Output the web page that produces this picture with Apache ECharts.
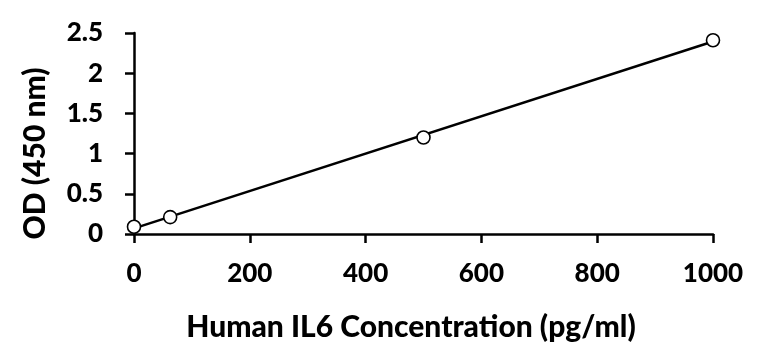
<!DOCTYPE html>
<html>
<head>
<meta charset="utf-8">
<script src="https://cdn.jsdelivr.net/npm/echarts@6/dist/echarts.min.js"></script>
<style>
  html, body { margin: 0; padding: 0; background: #fff; }
  #chart { width: 772px; height: 351px; }
</style>
</head>
<body>
<div id="chart"></div>
<script>
// Data
const concentrations = [0, 62.5, 500, 1000];
const odValues = [0.09, 0.21, 1.2, 2.41];
// Linear trendline end points
const trendX = [0, 1000];
const trendY = [0.07, 2.394];
const xTitle = 'Human IL6 Concentration (pg/ml)';
const yTitle = 'OD (450 nm)';

const FONT = 'Lato';
const WEIGHT = 900;
const chart = echarts.init(document.getElementById('chart'), null, { renderer: 'canvas' });

const axisCommon = {
  axisLine: { show: true, lineStyle: { color: '#000', width: 2.5 } },
  axisTick: { show: true, inside: false, length: 9, lineStyle: { color: '#000', width: 2.5 } },
  splitLine: { show: false },
  axisLabel: { color: '#000', fontFamily: FONT, fontWeight: WEIGHT, fontSize: 26, formatter: v => String(v) }
};

chart.setOption({
  animation: false,
  backgroundColor: '#fff',
  grid: { left: 134, right: 59, top: 33, bottom: 117, containLabel: false },
  xAxis: Object.assign({}, axisCommon, {
    type: 'value', min: 0, max: 1000, interval: 200,
    axisLabel: Object.assign({}, axisCommon.axisLabel, { margin: 27 })
  }),
  yAxis: Object.assign({}, axisCommon, {
    type: 'value', min: 0, max: 2.5, interval: 0.5,
    axisLabel: Object.assign({}, axisCommon.axisLabel, { margin: 31 })
  }),
  graphic: [
    {
      type: 'text', x: 411, y: 327,
      style: { text: xTitle, fill: '#000', font: WEIGHT + ' 30px ' + FONT, textAlign: 'center', textVerticalAlign: 'middle' }
    },
    {
      type: 'text', x: 35, y: 153.5, rotation: Math.PI / 2,
      style: { text: yTitle, fill: '#000', font: WEIGHT + ' 30px ' + FONT, textAlign: 'center', textVerticalAlign: 'middle' }
    }
  ],
  series: [
    {
      type: 'line',
      data: trendX.map((x, i) => [x, trendY[i]]),
      symbol: 'none',
      lineStyle: { color: '#000', width: 2.5 },
      z: 2
    },
    {
      type: 'scatter',
      data: concentrations.map((x, i) => [x, odValues[i]]),
      symbol: 'circle',
      symbolSize: 13,
      itemStyle: { color: '#fff', borderColor: '#000', borderWidth: 1.6, opacity: 1 },
      z: 3
    }
  ]
});
</script>
</body>
</html>
